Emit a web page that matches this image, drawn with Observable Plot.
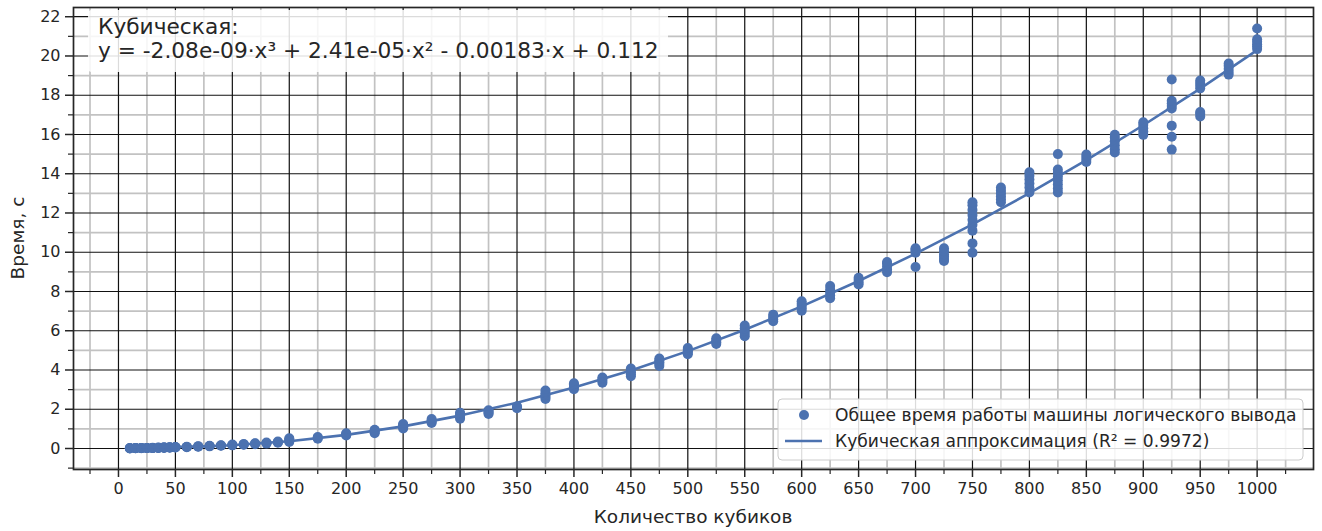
<!DOCTYPE html>
<html><head><meta charset="utf-8">
<script src="https://cdn.jsdelivr.net/npm/d3@7"></script>
<script src="https://cdn.jsdelivr.net/npm/@observablehq/plot@0.6"></script>
<style>
body{margin:0;background:#fff;}
#chart{width:1322px;height:531px;}
</style></head><body><div id="chart"></div>
<script>
// Number of cubes (x) and measured total run time of the inference engine, seconds (y)
const cubeCounts = [10,15,20,25,30,35,40,45,50,60,70,80,90,100,110,120,130,140,150,175,200,225,250,275,300,325,350,375,400,425,450,475,500,525,550,575,600,625,650,675,700,725,750,775,800,825,850,875,900,925,950,975,1000];
const runTimes = [
 [0.00,0.01,0.02,0.01],[0.01,0.02,0.01,0.02],[0.01,0.02,0.03,0.02],[0.02,0.03,0.02,0.03],
 [0.02,0.03,0.04,0.03],[0.03,0.04,0.03,0.05],[0.03,0.05,0.04,0.06],[0.04,0.05,0.06,0.07],
 [0.05,0.06,0.08,0.07],[0.07,0.08,0.09],[0.09,0.10,0.12],[0.11,0.13,0.14],[0.14,0.15,0.17],
 [0.16,0.18,0.20],[0.19,0.21,0.23],[0.22,0.25,0.27],[0.25,0.28,0.31],[0.29,0.32,0.36],
 [0.33,0.40,0.46,0.52],[0.50,0.55,0.58],[0.66,0.70,0.74,0.78],[0.78,0.84,0.90,0.95],
 [1.02,1.08,1.14,1.20,1.25],[1.30,1.36,1.42,1.50],[1.52,1.60,1.68,1.76,1.82],[1.76,1.82,1.88,1.95],
 [2.05,2.10,2.15],[2.52,2.62,2.72,2.82,2.95],[3.02,3.10,3.18,3.26,3.32],[3.35,3.45,3.55,3.62],
 [3.68,3.78,3.88,3.98,4.08],[4.20,4.30,4.40,4.50,4.58],[4.80,4.88,4.96,5.04,5.12],[5.32,5.42,5.52,5.62],
 [5.72,5.85,5.98,6.12,6.27],[6.48,6.58,6.70,6.82],[7.02,7.14,7.26,7.38,7.50],[7.66,7.80,7.95,8.10,8.28],
 [8.36,8.46,8.58,8.70],[8.98,9.12,9.28,9.42,9.50],[9.25,9.98,10.06,10.14,10.20],[9.55,9.65,9.78,9.90,10.05,10.20],
 [9.98,10.45,11.10,11.40,11.65,11.90,12.15,12.40,12.55],[12.55,12.70,12.85,13.00,13.15,13.30],
 [13.05,13.30,13.50,13.70,13.90,14.08],[13.05,13.25,13.45,13.65,13.85,14.05,14.22,15.00],
 [14.60,14.72,14.85,14.98],[15.08,15.25,15.45,15.65,15.85,15.98],[15.98,16.15,16.32,16.48,16.62],
 [15.23,15.88,16.45,17.32,17.45,17.58,17.72,18.80],[16.92,17.05,17.15,18.35,18.50,18.62,18.75],
 [19.05,19.20,19.35,19.50,19.62],[20.35,20.48,20.60,20.72,20.85,21.40]
];
// Cubic approximation curve, values as drawn
const fitX = [10,25,50,75,100,150,200,250,300,350,400,450,500,550,600,650,700,750,800,850,900,950,1000];
const fitY = [0.096,0.081,0.081,0.110,0.168,0.373,0.693,1.128,1.676,2.335,3.103,3.979,4.962,6.050,7.241,8.534,9.927,11.418,13.007,14.691,16.470,18.340,20.302];
// Tick values
const xMajor = [0,50,100,150,200,250,300,350,400,450,500,550,600,650,700,750,800,850,900,950,1000];
const xMinor = [-25,25,75,125,175,225,275,325,375,425,475,525,575,625,675,725,775,825,875,925,975,1025];
const yMajor = [0,2,4,6,8,10,12,14,16,18,20,22];
const yMinor = [-1,1,3,5,7,9,11,13,15,17,19,21];
// Texts
const xLabel = "Количество кубиков";
const yLabel = "Время, с";
const fitTitle = "Кубическая:";
const fitEquation = "y = -2.08e-09·x³ + 2.41e-05·x² - 0.00183·x + 0.112";
const legendScatter = "Общее время работы машины логического вывода";
const legendLine = "Кубическая аппроксимация (R² = 0.9972)";

const blue = "#4c72b0", ink = "#262626";
const W = 1322, H = 531, mL = 73, mR = 9, mT = 7, mB = 62;
const points = cubeCounts.flatMap((c, i) => runTimes[i].map(t => ({x: c, y: t})));
const fit = fitX.map((x, i) => ({x, y: fitY[i]}));

const chart = Plot.plot({
  width: W, height: H, marginLeft: mL, marginRight: mR, marginTop: mT, marginBottom: mB,
  style: {fontFamily: "DejaVu Sans", fontSize: "16px", color: ink, background: "#fff"},
  x: {domain: [-39.5, 1049.5]},
  y: {domain: [-1.07, 22.47]},
  marks: [
    Plot.gridX(xMinor, {stroke: "#c2c2c2", strokeOpacity: 1, strokeWidth: 1.7}),
    Plot.gridY(yMinor, {stroke: "#c2c2c2", strokeOpacity: 1, strokeWidth: 1.7}),
    Plot.gridX(xMajor, {stroke: "#111", strokeOpacity: 1, strokeWidth: 1.2}),
    Plot.gridY(yMajor, {stroke: "#111", strokeOpacity: 1, strokeWidth: 1.2}),
    Plot.dot(points, {x: "x", y: "y", r: 5, fill: blue, stroke: "none"}),
    Plot.line(fit, {x: "x", y: "y", stroke: blue, strokeWidth: 2.6}),
    Plot.frame({stroke: ink, strokeWidth: 1.7}),
    Plot.axisX(xMajor, {tickSize: 8, tickPadding: 5, strokeWidth: 1.5, stroke: ink, fill: ink, label: null, tickFormat: d => String(d)}),
    Plot.axisX(xMinor, {tickSize: 5, strokeWidth: 1.2, stroke: ink, tickFormat: () => "", label: null}),
    Plot.axisY(yMajor, {tickSize: 8, tickPadding: 5, strokeWidth: 1.5, stroke: ink, fill: ink, label: null, tickFormat: d => String(d)}),
    Plot.axisY(yMinor, {tickSize: 5, strokeWidth: 1.2, stroke: ink, tickFormat: () => "", label: null})
  ]
});
document.getElementById("chart").appendChild(chart);

const svg = d3.select(chart);
const g = svg.append("g").attr("font-family", "DejaVu Sans").attr("fill", ink);
// axis titles
g.append("text").attr("x", (mL + W - mR) / 2).attr("y", 523).attr("text-anchor", "middle")
  .attr("font-size", "18.5px").text(xLabel);
g.append("text").attr("transform", `translate(24,${(mT + H - mB) / 2}) rotate(-90)`)
  .attr("text-anchor", "middle").attr("font-size", "18.5px").text(yLabel);

// annotation box
const ann = svg.append("g").attr("font-family", "DejaVu Sans").attr("text-anchor", "start");
ann.append("rect").attr("x", 88).attr("y", 10).attr("width", 580).attr("height", 62)
  .attr("rx", 4).attr("fill", "#fff").attr("fill-opacity", 0.85);
ann.append("text").attr("x", 98).attr("y", 34).attr("font-size", "21.7px").attr("fill", ink).text(fitTitle);
ann.append("text").attr("x", 98).attr("y", 58).attr("font-size", "21.7px").attr("fill", ink).text(fitEquation);

// legend
const lg = svg.append("g").attr("font-family", "DejaVu Sans").attr("text-anchor", "start");
lg.append("rect").attr("x", 778).attr("y", 399).attr("width", 525).attr("height", 61)
  .attr("rx", 4).attr("fill", "#fff").attr("fill-opacity", 0.85).attr("stroke", "#cccccc").attr("stroke-width", 1);
lg.append("circle").attr("cx", 804).attr("cy", 415).attr("r", 5).attr("fill", blue);
lg.append("text").attr("x", 835).attr("y", 421).attr("font-size", "17.1px").attr("fill", ink).text(legendScatter);
lg.append("line").attr("x1", 785).attr("x2", 822).attr("y1", 441).attr("y2", 441)
  .attr("stroke", blue).attr("stroke-width", 2.6);
lg.append("text").attr("x", 835).attr("y", 447).attr("font-size", "17.1px").attr("fill", ink).text(legendLine);
</script>
</body></html>
